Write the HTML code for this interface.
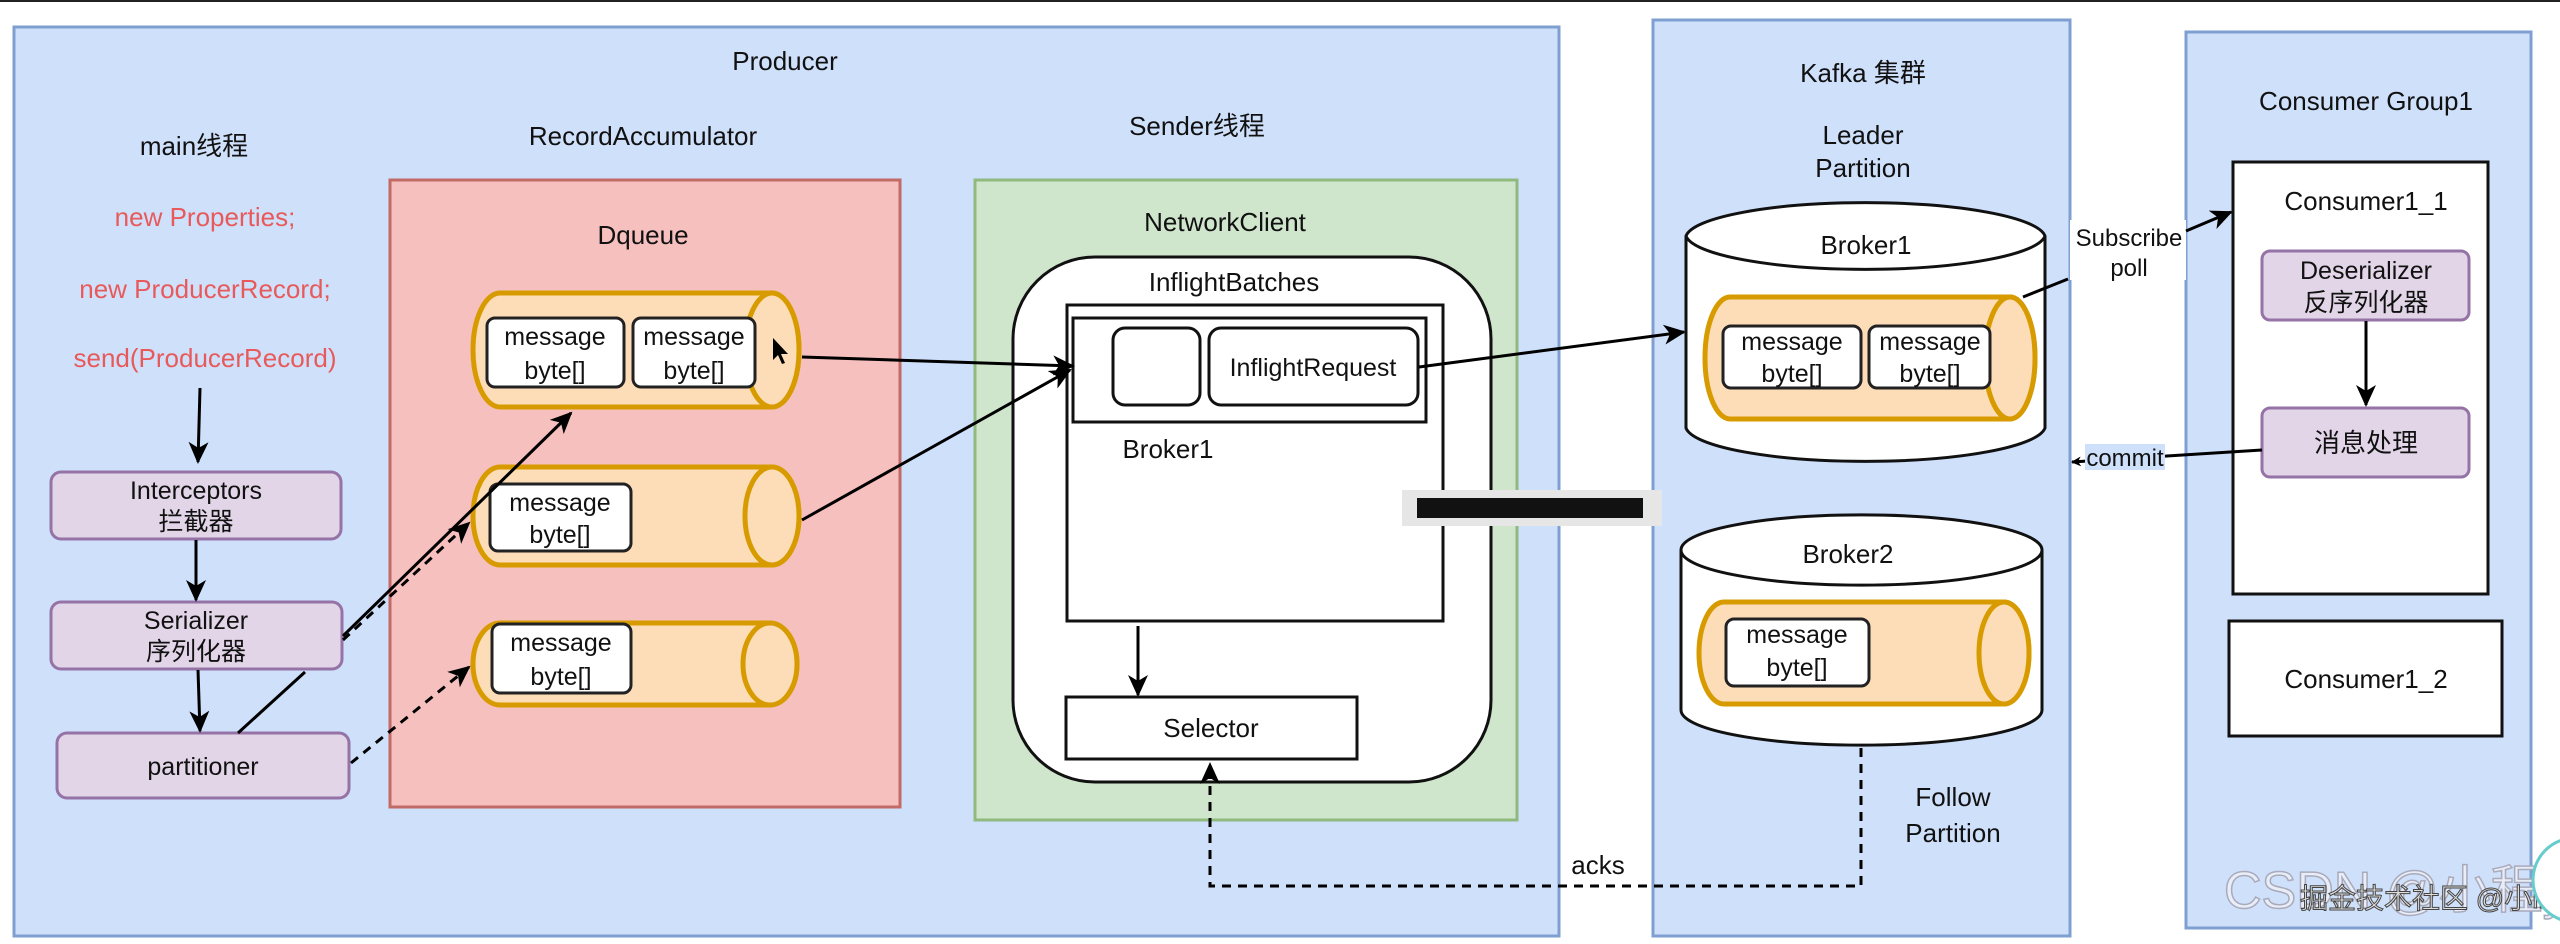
<!DOCTYPE html>
<html><head><meta charset="utf-8"><style>
html,body{margin:0;padding:0;background:#fff;}
svg{display:block;}
text{font-family:"Liberation Sans","Noto Sans CJK SC",sans-serif;fill:#111;}
</style></head><body>
<svg width="2560" height="944" viewBox="0 0 2560 944" xmlns="http://www.w3.org/2000/svg">
<defs>
<marker id="ar" markerWidth="10" markerHeight="10" refX="9" refY="5" orient="auto" markerUnits="userSpaceOnUse" viewBox="0 0 10 10">
<path d="M0,0 L10,5 L0,10 L3,5 Z" fill="#000"/></marker>
<marker id="arb" markerWidth="22" markerHeight="22" refX="20" refY="11" orient="auto" markerUnits="userSpaceOnUse" viewBox="0 0 22 22">
<path d="M0,1 L22,11 L0,21 L6,11 Z" fill="#000"/></marker>
</defs>
<rect x="0" y="0" width="2560" height="944" fill="#fff"/>
<rect x="0" y="0" width="2560" height="2" fill="#222"/>

<!-- big containers -->
<rect x="14" y="27" width="1545" height="909" fill="#cfe0fb" stroke="#7f9fd0" stroke-width="3"/>
<rect x="1653" y="20" width="417" height="916" fill="#cfe0fb" stroke="#7f9fd0" stroke-width="3"/>
<rect x="2186" y="32" width="345" height="896" fill="#cfe0fb" stroke="#7f9fd0" stroke-width="3"/>

<text x="785" y="70" font-size="26" text-anchor="middle">Producer</text>
<text x="194" y="155" font-size="26" text-anchor="middle">main线程</text>
<text x="205" y="226" font-size="26" text-anchor="middle" style="fill:#e85a5a">new Properties;</text>
<text x="205" y="298" font-size="26" text-anchor="middle" style="fill:#e85a5a">new ProducerRecord;</text>
<text x="205" y="367" font-size="26" text-anchor="middle" style="fill:#e85a5a">send(ProducerRecord)</text>
<text x="643" y="145" font-size="26" text-anchor="middle">RecordAccumulator</text>
<text x="1197" y="135" font-size="26" text-anchor="middle">Sender线程</text>

<!-- main boxes -->
<rect x="51" y="472" width="290" height="67" rx="10" fill="#e1d5e7" stroke="#9673a6" stroke-width="3"/>
<text x="196" y="499" font-size="25" text-anchor="middle">Interceptors</text>
<text x="196" y="530" font-size="25" text-anchor="middle">拦截器</text>
<rect x="51" y="602" width="291" height="67" rx="10" fill="#e1d5e7" stroke="#9673a6" stroke-width="3"/>
<text x="196" y="629" font-size="25" text-anchor="middle">Serializer</text>
<text x="196" y="660" font-size="25" text-anchor="middle">序列化器</text>
<rect x="57" y="733" width="292" height="65" rx="10" fill="#e1d5e7" stroke="#9673a6" stroke-width="3"/>
<text x="203" y="775" font-size="25" text-anchor="middle">partitioner</text>
<line x1="200" y1="388" x2="198" y2="462" stroke="#000" stroke-width="3" marker-end="url(#arb)"/>
<line x1="196" y1="540" x2="196" y2="600" stroke="#000" stroke-width="3" marker-end="url(#arb)"/>
<line x1="198" y1="670" x2="200" y2="731" stroke="#000" stroke-width="3" marker-end="url(#arb)"/>

<!-- red box -->
<rect x="390" y="180" width="510" height="627" fill="#f6c0be" stroke="#c26a66" stroke-width="3"/>
<text x="643" y="244" font-size="26" text-anchor="middle">Dqueue</text>

<!-- cylinders -->
<g stroke="#d79b00" stroke-width="5" fill="#fdddb8">
<path d="M500,293 H772 A27,57 0 0 1 772,407 H500 A27,57 0 0 1 500,293 Z"/>
<ellipse cx="772" cy="350" rx="27" ry="57"/>
<path d="M500,467 H772 A27,49 0 0 1 772,565 H500 A27,49 0 0 1 500,467 Z"/>
<ellipse cx="772" cy="516" rx="27" ry="49"/>
<path d="M500,623 H770 A27,41 0 0 1 770,705 H500 A27,41 0 0 1 500,623 Z"/>
<ellipse cx="770" cy="664" rx="27" ry="41"/>
</g>
<g fill="#fff" stroke="#222" stroke-width="3">
<rect x="487" y="318" width="137" height="69" rx="8"/>
<rect x="633" y="318" width="122" height="69" rx="8"/>
<rect x="490" y="484" width="141" height="67" rx="8"/>
<rect x="492" y="624" width="139" height="69" rx="8"/>
</g>
<g font-size="25" text-anchor="middle">
<text x="555" y="345">message</text><text x="555" y="379">byte[]</text>
<text x="694" y="345">message</text><text x="694" y="379">byte[]</text>
<text x="560" y="511">message</text><text x="560" y="543">byte[]</text>
<text x="561" y="651">message</text><text x="561" y="685">byte[]</text>
</g>
<path d="M773,338 l0,22 l5,-5 l4,9 l3,-1 l-4,-9 l7,0 Z" fill="#000"/>

<!-- producer arrows -->
<line x1="343" y1="636" x2="571" y2="413" stroke="#000" stroke-width="3" marker-end="url(#arb)"/>
<line x1="343" y1="640" x2="469" y2="523" stroke="#000" stroke-width="3" stroke-dasharray="9,7" marker-end="url(#arb)"/>
<line x1="238" y1="733" x2="305" y2="672" stroke="#000" stroke-width="3"/>
<line x1="351" y1="763" x2="469" y2="667" stroke="#000" stroke-width="3" stroke-dasharray="9,7" marker-end="url(#arb)"/>

<!-- green box -->
<rect x="975" y="180" width="542" height="640" fill="#cfe6cc" stroke="#8fb97d" stroke-width="3"/>
<text x="1225" y="231" font-size="26" text-anchor="middle">NetworkClient</text>
<rect x="1013" y="257" width="478" height="525" rx="82" fill="#fff" stroke="#111" stroke-width="3"/>
<text x="1234" y="291" font-size="26" text-anchor="middle">InflightBatches</text>
<rect x="1067" y="305" width="376" height="316" fill="#fff" stroke="#111" stroke-width="3"/>
<rect x="1073" y="318" width="353" height="104" fill="#fff" stroke="#111" stroke-width="3"/>
<rect x="1113" y="328" width="87" height="77" rx="12" fill="#fff" stroke="#111" stroke-width="3"/>
<rect x="1209" y="328" width="209" height="77" rx="12" fill="#fff" stroke="#111" stroke-width="3"/>
<text x="1313" y="376" font-size="25" text-anchor="middle">InflightRequest</text>
<text x="1168" y="458" font-size="26" text-anchor="middle">Broker1</text>
<rect x="1066" y="697" width="291" height="62" fill="#fff" stroke="#111" stroke-width="3"/>
<text x="1211" y="737" font-size="26" text-anchor="middle">Selector</text>
<line x1="1138" y1="626" x2="1138" y2="695" stroke="#000" stroke-width="3" marker-end="url(#arb)"/>
<line x1="802" y1="357" x2="1073" y2="366" stroke="#000" stroke-width="3" marker-end="url(#arb)"/>
<line x1="802" y1="520" x2="1070" y2="370" stroke="#000" stroke-width="3" marker-end="url(#arb)"/>
<line x1="1419" y1="367" x2="1684" y2="332" stroke="#000" stroke-width="3" marker-end="url(#arb)"/>

<!-- Kafka -->
<text x="1863" y="82" font-size="26" text-anchor="middle">Kafka 集群</text>
<text x="1863" y="144" font-size="26" text-anchor="middle">Leader</text>
<text x="1863" y="177" font-size="26" text-anchor="middle">Partition</text>
<g fill="#fff" stroke="#111" stroke-width="3">
<path d="M1686,236 A180,36 0 0 1 2045,236 V428 A180,36 0 0 1 1686,428 Z"/>
<path d="M1686,236 A180,36 0 0 0 2045,236"/>
<path d="M1681,550 A180,35 0 0 1 2042,550 V710 A180,35 0 0 1 1681,710 Z"/>
<path d="M1681,550 A180,35 0 0 0 2042,550"/>
</g>
<text x="1866" y="254" font-size="26" text-anchor="middle">Broker1</text>
<text x="1848" y="563" font-size="26" text-anchor="middle">Broker2</text>
<g stroke="#d79b00" stroke-width="5" fill="#fdddb8">
<path d="M1730,297 H2010 A25,61 0 0 1 2010,419 H1730 A25,61 0 0 1 1730,297 Z"/>
<ellipse cx="2010" cy="358" rx="25" ry="61"/>
<path d="M1724,602 H2004 A25,51 0 0 1 2004,704 H1724 A25,51 0 0 1 1724,602 Z"/>
<ellipse cx="2004" cy="653" rx="25" ry="51"/>
</g>
<g fill="#fff" stroke="#222" stroke-width="3">
<rect x="1723" y="326" width="138" height="62" rx="8"/>
<rect x="1869" y="326" width="121" height="62" rx="8"/>
<rect x="1726" y="619" width="143" height="67" rx="8"/>
</g>
<g font-size="25" text-anchor="middle">
<text x="1792" y="350">message</text><text x="1792" y="382">byte[]</text>
<text x="1930" y="350">message</text><text x="1930" y="382">byte[]</text>
<text x="1797" y="643">message</text><text x="1797" y="676">byte[]</text>
</g>
<text x="1953" y="806" font-size="26" text-anchor="middle">Follow</text>
<text x="1953" y="842" font-size="26" text-anchor="middle">Partition</text>
<text x="1598" y="874" font-size="26" text-anchor="middle">acks</text>
<polyline points="1861,748 1861,886 1210,886 1210,764" fill="none" stroke="#000" stroke-width="3" stroke-dasharray="9,7" marker-end="url(#arb)"/>

<!-- grey bar -->
<rect x="1402" y="490" width="260" height="36" fill="#e6e6e6"/>
<rect x="1417" y="498" width="226" height="20" fill="#111"/>

<!-- consumer -->
<text x="2366" y="110" font-size="26" text-anchor="middle">Consumer Group1</text>
<rect x="2233" y="162" width="255" height="432" fill="#fff" stroke="#111" stroke-width="3"/>
<text x="2366" y="210" font-size="26" text-anchor="middle">Consumer1_1</text>
<rect x="2262" y="251" width="207" height="69" rx="8" fill="#e1d5e7" stroke="#9673a6" stroke-width="3"/>
<text x="2366" y="279" font-size="25" text-anchor="middle">Deserializer</text>
<text x="2366" y="311" font-size="25" text-anchor="middle">反序列化器</text>
<rect x="2262" y="408" width="207" height="69" rx="8" fill="#e1d5e7" stroke="#9673a6" stroke-width="3"/>
<text x="2366" y="452" font-size="26" text-anchor="middle">消息处理</text>
<line x1="2366" y1="321" x2="2366" y2="405" stroke="#000" stroke-width="3" marker-end="url(#arb)"/>
<rect x="2229" y="621" width="273" height="115" fill="#fff" stroke="#111" stroke-width="3"/>
<text x="2366" y="688" font-size="26" text-anchor="middle">Consumer1_2</text>

<!-- subscribe / commit -->
<rect x="2070" y="220" width="116" height="60" fill="#fff"/>
<text x="2129" y="246" font-size="24" text-anchor="middle">Subscribe</text>
<text x="2129" y="276" font-size="24" text-anchor="middle">poll</text>
<line x1="2023" y1="297" x2="2068" y2="279" stroke="#000" stroke-width="3"/>
<line x1="2186" y1="231" x2="2231" y2="212" stroke="#000" stroke-width="3" marker-end="url(#arb)"/>
<line x1="2262" y1="450" x2="2072" y2="462" stroke="#000" stroke-width="3" marker-end="url(#ar)"/>
<rect x="2085" y="444" width="80" height="26" fill="#cfe0fb"/>
<text x="2125" y="466" font-size="24" text-anchor="middle">commit</text>

<!-- watermark -->
<text x="2224" y="908" font-size="52" style="fill:#e8eef8;stroke:#aab;stroke-width:1.5">CSDN @小程y</text>
<text x="2300" y="908" font-size="28" style="fill:#ddd;stroke:#444;stroke-width:1">掘金技术社区 @小lify</text>
<circle cx="2575" cy="880" r="42" fill="#fff" stroke="#6cc" stroke-width="3"/>
</svg>
</body></html>
